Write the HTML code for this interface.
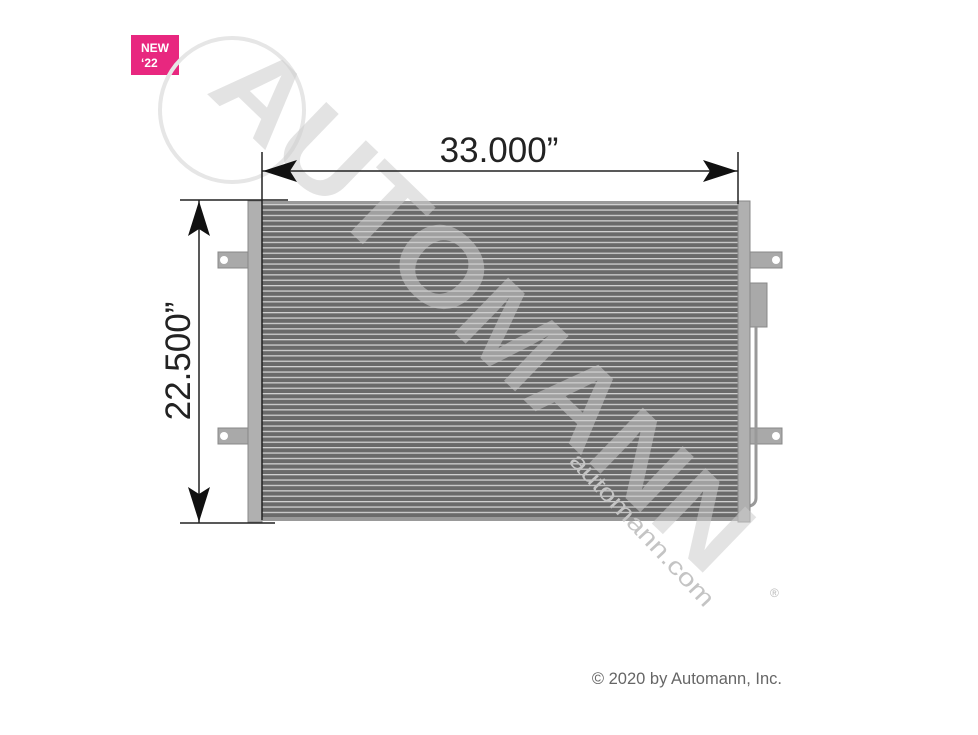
<!DOCTYPE html>
<html><head><meta charset="utf-8"><style>
html,body{margin:0;padding:0;background:#fff;width:978px;height:735px;overflow:hidden}
svg{display:block}
text{font-family:"Liberation Sans",sans-serif}
</style></head><body>
<svg width="978" height="735" viewBox="0 0 978 735" xmlns="http://www.w3.org/2000/svg">
<defs>
<pattern id="fins" x="0" y="204" width="10" height="5.4" patternUnits="userSpaceOnUse">
<rect width="10" height="5.4" fill="#6a6a6a"/>
<rect y="0" width="10" height="1.3" fill="#d0d0d0"/>
</pattern>
</defs>
<rect x="131" y="35" width="48" height="40" fill="#e8277f"/>
<text x="141" y="52" font-size="12" font-weight="bold" fill="#fff">NEW</text>
<text x="141" y="67" font-size="12" font-weight="bold" fill="#fff">‘22</text>
<circle cx="232" cy="110" r="72" fill="none" stroke="#e6e6e6" stroke-width="4"/>
<g fill="#a9a9a9" stroke="#888" stroke-width="1">
<rect x="218" y="252" width="34" height="16"/>
<rect x="218" y="428" width="34" height="16"/>
<rect x="748" y="252" width="34" height="16"/>
<rect x="748" y="428" width="34" height="16"/>
<rect x="750" y="283" width="17" height="44"/>
</g>
<g fill="#fff"><circle cx="224" cy="260" r="4"/><circle cx="224" cy="436" r="4"/><circle cx="776" cy="260" r="4"/><circle cx="776" cy="436" r="4"/></g>
<path d="M756 327 L756 498 Q756 504 750 506" fill="none" stroke="#999" stroke-width="3"/>
<rect x="248" y="201" width="14" height="321" fill="#b0b0b0" stroke="#888"/>
<rect x="262" y="203" width="478" height="316" fill="url(#fins)"/>
<rect x="262" y="201" width="478" height="3" fill="#999"/>
<rect x="262" y="517" width="478" height="4" fill="#999"/>
<rect x="738" y="201" width="12" height="321" fill="#b0b0b0" stroke="#888"/>
<text transform="translate(205,92) rotate(44)" font-size="112" font-weight="bold" fill="#cccccc" fill-opacity="0.55" textLength="700" lengthAdjust="spacingAndGlyphs">AUTOMANN</text>
<text transform="translate(568,462) rotate(47)" font-size="24" fill="#c4c4c4" textLength="200" lengthAdjust="spacingAndGlyphs">automann.com</text>
<text x="770" y="597" font-size="12" fill="#bbb">®</text>
<g stroke="#222" stroke-width="1.5">
<line x1="262" y1="152" x2="262" y2="520"/>
<line x1="738" y1="152" x2="738" y2="204"/>
<line x1="262" y1="171" x2="738" y2="171"/>
<line x1="180" y1="200" x2="288" y2="200"/>
<line x1="180" y1="523" x2="275" y2="523"/>
<line x1="199" y1="200" x2="199" y2="523"/>
</g>
<g fill="#111">
<polygon points="263,171 297,160 290,171 297,182"/>
<polygon points="737,171 703,160 710,171 703,182"/>
<polygon points="199,201 188,236 199,229 210,236"/>
<polygon points="199,522 188,487 199,494 210,487"/>
</g>
<text x="499" y="162" font-size="35" fill="#222" text-anchor="middle">33.000”</text>
<text transform="translate(190,361) rotate(-90)" font-size="35" fill="#222" text-anchor="middle">22.500”</text>
<text x="782" y="684" font-size="16.5" fill="#666" text-anchor="end">© 2020 by Automann, Inc.</text>
</svg>
</body></html>
